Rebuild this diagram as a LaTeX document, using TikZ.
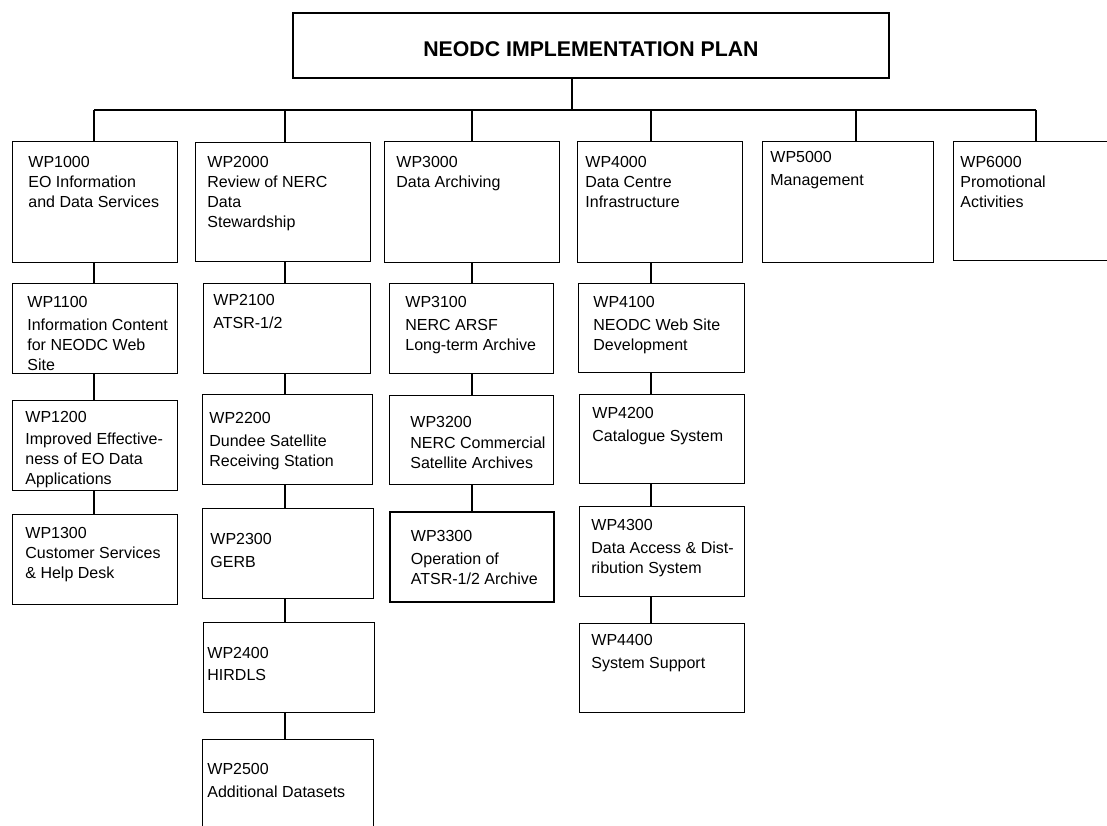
\documentclass[tikz,border=0pt]{standalone}
\usepackage{fontspec}
\setmainfont{Liberation Sans}

\newcommand{\wpfont}{\fontsize{16}{20}\selectfont}
\newcommand{\titlefont}{\fontsize{21.3}{25}\selectfont\bfseries}
% box body: width, height, left pad, top pad, lines
\newcommand{\wpbody}[5]{\parbox[t][#2pt][t]{#1pt}{\wpfont\raggedright
  \leftskip=#3pt\relax\vspace*{#4pt}\strut#5}}

\begin{document}
\begin{tikzpicture}[x=1pt,y=-1pt,
                    wp/.style={draw,anchor=north west,inner sep=0pt,line width=0.8pt},
                    heavy/.style={line width=1.8pt},
                    link/.style={line width=1.2pt}]
  \useasboundingbox (0,0) rectangle (1107,826);
  \clip (0,0) rectangle (1107,826);

  \node[wp,heavy,minimum width=596,minimum height=65,font=\titlefont,
        text height=22pt,text depth=0pt] (plan) at (292,12) {NEODC IMPLEMENTATION PLAN};

  % top row
  \node[wp] (wp1000) at (12,141)  {\wpbody{165}{121}{16}{12.5}{WP1000\\EO Information\\and Data Services}};
  \node[wp] (wp2000) at (195,142) {\wpbody{175}{119}{12}{11}{WP2000\\Review of NERC\\Data\\Stewardship}};
  \node[wp] (wp3000) at (384,141) {\wpbody{175}{121}{12}{12}{WP3000\\Data Archiving}};
  \node[wp] (wp4000) at (577,141) {\wpbody{165}{121}{8}{12}{WP4000\\Data Centre\\Infrastructure}};
  \node[wp] (wp5000) at (762,141) {\wpbody{171}{121}{8}{7}{WP5000\\[3pt]Management}};
  \node[wp] (wp6000) at (953,141) {\wpbody{166}{119}{7}{12}{WP6000\\Promotional\\Activities}};

  % WP1000 column
  \node[wp] (wp1100) at (12,283) {\wpbody{165}{90}{15}{10}{WP1100\\[3pt]Information Content\\for NEODC Web\\Site}};
  \node[wp] (wp1200) at (12,400) {\wpbody{165}{90}{13}{8}{WP1200\\[2pt]Improved Effective-\\ness of EO Data\\Applications}};
  \node[wp] (wp1300) at (12,514) {\wpbody{165}{90}{13}{10}{WP1300\\Customer Services\\\& Help Desk}};

  % WP2000 column
  \node[wp] (wp2100) at (203,283) {\wpbody{167}{90}{10}{8}{WP2100\\[3pt]ATSR-1/2}};
  \node[wp] (wp2200) at (202,394) {\wpbody{170}{90}{7}{15}{WP2200\\[3pt]Dundee Satellite\\Receiving Station}};
  \node[wp] (wp2300) at (202,508) {\wpbody{171}{90}{8}{22}{WP2300\\[3pt]GERB}};
  \node[wp] (wp2400) at (203,622) {\wpbody{171}{90}{4}{22}{WP2400\\[2pt]HIRDLS}};
  \node[wp] (wp2500) at (202,739) {\wpbody{171}{95}{5}{21}{WP2500\\[3pt]Additional Datasets}};

  % WP3000 column
  \node[wp] (wp3100) at (389,283) {\wpbody{164}{90}{16}{10}{WP3100\\[3pt]NERC ARSF\\Long-term Archive}};
  \node[wp] (wp3200) at (389,395) {\wpbody{164}{89}{21}{18}{WP3200\\[1pt]NERC Commercial\\Satellite Archives}};
  \node[wp,heavy] (wp3300) at (389,511) {\wpbody{164}{90}{21}{16}{WP3300\\[3pt]Operation of\\ATSR-1/2 Archive}};

  % WP4000 column
  \node[wp] (wp4100) at (578,283) {\wpbody{166}{89}{15}{10}{WP4100\\[3pt]NEODC Web Site\\Development}};
  \node[wp] (wp4200) at (579,394) {\wpbody{165}{89}{13}{10}{WP4200\\[3pt]Catalogue System}};
  \node[wp] (wp4300) at (579,506) {\wpbody{165}{90}{12}{10}{WP4300\\[3pt]Data Access \& Dist-\\ribution System}};
  \node[wp] (wp4400) at (579,623) {\wpbody{165}{89}{12}{8}{WP4400\\[3pt]System Support}};

  % bus
  \coordinate (hub) at (572,110);
  \coordinate (c1) at (94,110);
  \coordinate (c2) at (285,110);
  \coordinate (c3) at (472,110);
  \coordinate (c4) at (651,110);
  \coordinate (c5) at (856,110);
  \coordinate (c6) at (1036,110);

  \draw[link] (plan.south -| hub) -- (hub);
  \draw[link] (c1) -- (c6);
  \foreach \c/\n in {c1/wp1000,c2/wp2000,c3/wp3000,c4/wp4000,c5/wp5000,c6/wp6000}
    \draw[link] (\c) -- (\c |- \n.north);

  \foreach \c/\a/\b in {c1/wp1000/wp1100,c1/wp1100/wp1200,c1/wp1200/wp1300,
                        c2/wp2000/wp2100,c2/wp2100/wp2200,c2/wp2200/wp2300,
                        c2/wp2300/wp2400,c2/wp2400/wp2500,
                        c3/wp3000/wp3100,c3/wp3100/wp3200,c3/wp3200/wp3300,
                        c4/wp4000/wp4100,c4/wp4100/wp4200,c4/wp4200/wp4300,
                        c4/wp4300/wp4400}
    \draw[link] (\c |- \a.south) -- (\c |- \b.north);
\end{tikzpicture}
\end{document}
